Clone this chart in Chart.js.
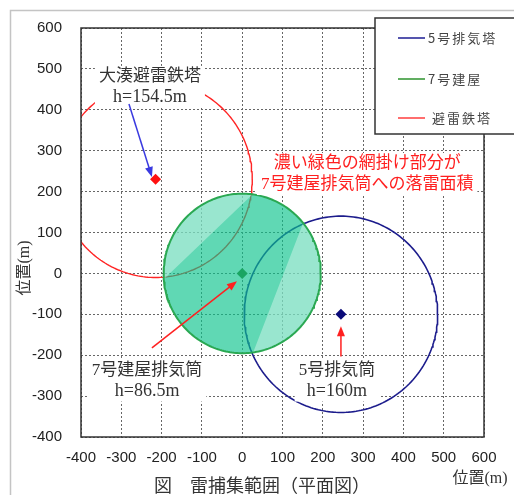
<!DOCTYPE html>
<html><head><meta charset="utf-8">
<script src="https://cdn.jsdelivr.net/npm/chart.js@4.4.1/dist/chart.umd.min.js"></script>
<style>html,body{margin:0;padding:0;background:#fff;overflow:hidden}#wrap{width:514px;height:495px;position:relative}</style>
</head><body><div id="wrap"><canvas id="c" width="514" height="495" style="width:514px;height:495px"></canvas></div>
<script>
// ---- data ----
const seriesNames = ['5号排気塔', '7号建屋', '避雷鉄塔'];
const centerX = [245, 0, -215];
const centerY = [-100, 0, 230];
const captureRadius = [240, 195, 240];
const seriesColors = ['#1c1c8c', '#2aa852', '#ff2424'];
const markerColors = ['#0a0a78', '#1aa562', '#ff1010'];
const legendColors = ['#2a2a9a', '#3a9a3a', '#ff4a4a'];
const xTickValues = [-400, -300, -200, -100, 0, 100, 200, 300, 400, 500, 600];
const yTickValues = [-400, -300, -200, -100, 0, 100, 200, 300, 400, 500, 600];
// lighter (shielded) parts of the 7号 circle: chord end points on the circle, counter-clockwise
const lightChordStart = [[26, 193], [27, -192]];
const lightChordEnd = [[-194, -14], [151, 123]];
// annotation anchors (data coordinates)
const noteLines = [['大湊避雷鉄塔', 'h=154.5m'], ['7号建屋排気筒', 'h=86.5m'], ['5号排気筒', 'h=160m'], ['濃い緑色の網掛け部分が', '7号建屋排気筒への落雷面積']];
const noteX = [-229, -236, 235, 310];
const noteY = [456, -262, -262, 243];
const noteColor = ['#333333', '#333333', '#333333', '#ff2020'];
const arrowFrom = [[-281, 414], [-224, -182], [245, -203]];
const arrowTo = [[-224, 236], [-13, -19], [245, -129]];
const arrowColor = ['#3a3ae0', '#ff2020', '#ff2020'];

function arc(cx, cy, r, a0, a1, n) {
  const pts = [];
  for (let i = 0; i <= n; i++) {
    const a = a0 + (a1 - a0) * i / n;
    pts.push({x: cx + r * Math.cos(a), y: cy + r * Math.sin(a)});
  }
  return pts;
}
const circle = i => arc(centerX[i], centerY[i], captureRadius[i], 0, 2 * Math.PI, 240);
function lightPatch(k) {
  const s = lightChordStart[k], e = lightChordEnd[k];
  let a0 = Math.atan2(s[1] - centerY[1], s[0] - centerX[1]);
  let a1 = Math.atan2(e[1] - centerY[1], e[0] - centerX[1]);
  if (a1 < a0) a1 += 2 * Math.PI;
  const pts = arc(centerX[1], centerY[1], captureRadius[1], a0, a1, 80);
  pts.push({x: pts[0].x, y: pts[0].y});
  return pts;
}

const JP = "'Liberation Serif','Noto Sans CJK JP'";
const base = {showLine: true, pointRadius: 0, tension: 0};
const datasets = [
  Object.assign({}, base, {label: seriesNames[0], data: circle(0), borderColor: seriesColors[0], borderWidth: 1.6, fill: false, order: 6}),
  Object.assign({}, base, {label: seriesNames[2], data: circle(2), borderColor: seriesColors[2], borderWidth: 1.4, fill: false, order: 5}),
  Object.assign({}, base, {label: '7号 fill', data: circle(1), borderWidth: 0, borderColor: 'rgba(0,0,0,0)', backgroundColor: 'rgba(10,195,140,0.65)', fill: 'shape', order: 4}),
  Object.assign({}, base, {label: 'light1', data: lightPatch(0), borderWidth: 0, borderColor: 'rgba(0,0,0,0)', backgroundColor: 'rgba(255,255,255,0.36)', fill: 'shape', order: 3}),
  Object.assign({}, base, {label: 'light2', data: lightPatch(1), borderWidth: 0, borderColor: 'rgba(0,0,0,0)', backgroundColor: 'rgba(255,255,255,0.36)', fill: 'shape', order: 3}),
  Object.assign({}, base, {label: seriesNames[1], data: circle(1), borderColor: seriesColors[1], borderWidth: 2, fill: false, order: 2}),
  {label: 'markers', data: centerX.map((v, i) => ({x: v, y: centerY[i]})), showLine: false, pointStyle: 'rectRot',
   pointRadius: 5.5, pointBorderWidth: 0, pointBackgroundColor: markerColors, pointBorderColor: markerColors, order: 1}
];

function arrow(ctx, x0, y0, x1, y1, color) {
  const ang = Math.atan2(y1 - y0, x1 - x0), L = 10, W = 4;
  ctx.save();
  ctx.strokeStyle = color; ctx.fillStyle = color; ctx.lineWidth = 1.5;
  ctx.beginPath(); ctx.moveTo(x0, y0);
  ctx.lineTo(x1 - Math.cos(ang) * L * 0.8, y1 - Math.sin(ang) * L * 0.8); ctx.stroke();
  ctx.beginPath(); ctx.moveTo(x1, y1);
  ctx.lineTo(x1 - Math.cos(ang) * L - Math.sin(ang) * W, y1 - Math.sin(ang) * L + Math.cos(ang) * W);
  ctx.lineTo(x1 - Math.cos(ang) * L + Math.sin(ang) * W, y1 - Math.sin(ang) * L - Math.cos(ang) * W);
  ctx.closePath(); ctx.fill();
  ctx.restore();
}

const deco = {
  id: 'deco',
  beforeDraw(chart) {
    const ctx = chart.ctx;
    ctx.save(); ctx.fillStyle = '#fff'; ctx.fillRect(0, 0, chart.width, chart.height); ctx.restore();
  },
  afterDatasetsDraw(chart) {
    const {ctx, chartArea: a, scales: {x, y}} = chart;
    ctx.save();
    ctx.strokeStyle = '#333'; ctx.lineWidth = 1.5;
    ctx.strokeRect(a.left, a.top, a.right - a.left, a.bottom - a.top);
    const fontSizes = [17, 17, 17, 17];
    noteLines.forEach((lines, i) => {
      const cx = x.getPixelForValue(noteX[i]), cy = y.getPixelForValue(noteY[i]);
      ctx.font = fontSizes[i] + 'px ' + JP;
      let w = 0;
      lines.forEach(t => { w = Math.max(w, ctx.measureText(t).width); });
      const h = 42;
      ctx.fillStyle = '#fff';
      ctx.fillRect(cx - w / 2 - 4, cy - h / 2, w + 8, h);
      ctx.fillStyle = noteColor[i];
      ctx.textAlign = 'center'; ctx.textBaseline = 'middle';
      lines.forEach((t, k) => {
        ctx.font = (i < 3 && k === 1 ? 18 : fontSizes[i]) + 'px ' + JP;
        ctx.fillText(t, cx, cy - 10 + k * 20.5);
      });
    });
    arrowFrom.forEach((p, i) => {
      arrow(ctx, x.getPixelForValue(p[0]), y.getPixelForValue(p[1]),
        x.getPixelForValue(arrowTo[i][0]), y.getPixelForValue(arrowTo[i][1]), arrowColor[i]);
    });
    ctx.fillStyle = '#fff'; ctx.strokeStyle = '#333'; ctx.lineWidth = 1.5;
    ctx.fillRect(375, 18, 150, 116); ctx.strokeRect(375, 18, 150, 116);
    const ly = [38, 79, 118];
    seriesNames.forEach((n, i) => {
      ctx.strokeStyle = legendColors[i]; ctx.lineWidth = 1.6;
      ctx.beginPath(); ctx.moveTo(398, ly[i]); ctx.lineTo(425, ly[i]); ctx.stroke();
      ctx.fillStyle = '#444'; ctx.font = "13px 'Noto Sans CJK JP'";
      ctx.textAlign = 'left'; ctx.textBaseline = 'middle';
      ctx.letterSpacing = '2px';
      ctx.fillText(n, i === 2 ? 432 : 428, ly[i]);
      ctx.letterSpacing = '0px';
    });
    ctx.strokeStyle = '#c4c4c4'; ctx.lineWidth = 1.5;
    ctx.strokeRect(10.5, 10.5, 600, 600);
    ctx.fillStyle = '#333';
    ctx.font = '16px ' + JP; ctx.textAlign = 'center'; ctx.textBaseline = 'middle';
    ctx.fillText('位置(m)', 480, 479);
    ctx.save(); ctx.translate(25, 268); ctx.rotate(-Math.PI / 2); ctx.fillText('位置(m)', 0, 0); ctx.restore();
    ctx.font = '18px ' + JP;
    ctx.fillText('図　雷捕集範囲（平面図）', 262, 487);
    ctx.restore();
  }
};

new Chart(document.getElementById('c'), {
  type: 'scatter',
  data: {datasets},
  options: {
    responsive: false, maintainAspectRatio: false, animation: false, devicePixelRatio: 1,
    layout: {padding: {left: 30, top: 28, right: 30, bottom: 0}},
    plugins: {legend: {display: false}, tooltip: {enabled: false}, filler: {drawTime: 'beforeDatasetDraw'}},
    scales: {
      x: {type: 'linear', min: -400, max: 600,
        afterBuildTicks: s => { s.ticks = xTickValues.map(v => ({value: v})); },
        afterFit: s => { s.height = 58; },
        grid: {color: '#666', lineWidth: 1, drawTicks: false},
        border: {display: false, dash: [2, 2]},
        ticks: {padding: 12, color: '#222', font: {family: "'Liberation Sans'", size: 15}, maxRotation: 0, autoSkip: false}},
      y: {type: 'linear', min: -400, max: 600,
        afterBuildTicks: s => { s.ticks = yTickValues.map(v => ({value: v})); },
        afterFit: s => { s.width = 51; },
        grid: {color: '#666', lineWidth: 1, drawTicks: false},
        border: {display: false, dash: [2, 2]},
        ticks: {padding: 19, color: '#222', font: {family: "'Liberation Sans'", size: 15}, autoSkip: false}}
    }
  },
  plugins: [deco]
});
</script></body></html>
